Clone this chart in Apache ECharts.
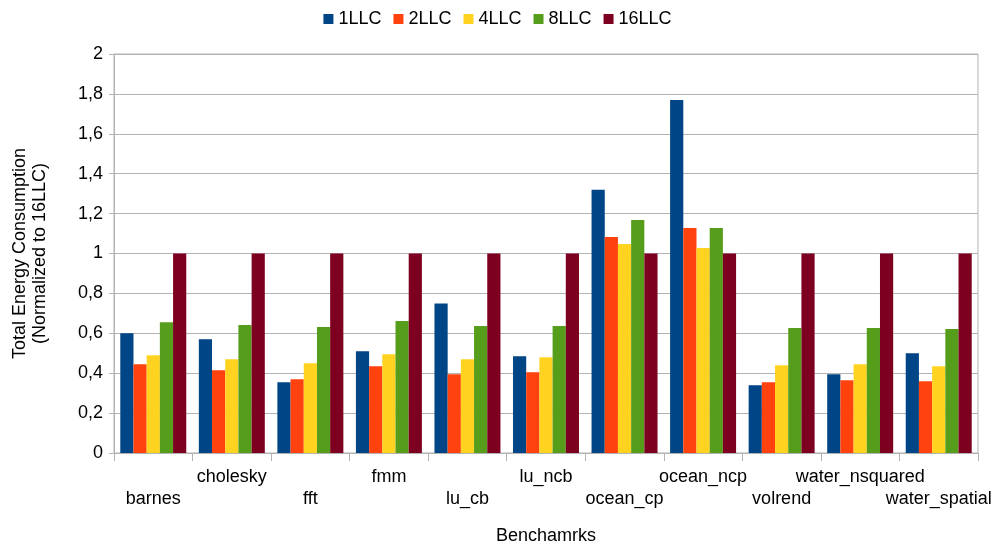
<!DOCTYPE html>
<html>
<head>
<meta charset="utf-8">
<script src="https://cdn.jsdelivr.net/npm/echarts@6/dist/echarts.min.js"></script>
<style>
  html, body { margin: 0; padding: 0; background: #fff; }
  #chart { width: 995px; height: 547px; }
</style>
</head>
<body>
<div id="chart"></div>
<script>
// Benchmarks on the category axis
const benchmarks = ['barnes', 'cholesky', 'fft', 'fmm', 'lu_cb', 'lu_ncb', 'ocean_cp', 'ocean_ncp', 'volrend', 'water_nsquared', 'water_spatial'];

// Energy per configuration, normalized to 16LLC
const llc1  = [0.60, 0.57, 0.355, 0.51, 0.75, 0.485, 1.32, 1.77, 0.34, 0.395, 0.50];
const llc2  = [0.445, 0.415, 0.37, 0.435, 0.395, 0.405, 1.083, 1.128, 0.355, 0.365, 0.36];
const llc4  = [0.49, 0.47, 0.45, 0.495, 0.47, 0.48, 1.048, 1.028, 0.44, 0.445, 0.435];
const llc8  = [0.655, 0.642, 0.632, 0.662, 0.637, 0.637, 1.168, 1.128, 0.627, 0.627, 0.622];
const llc16 = [1, 1, 1, 1, 1, 1, 1, 1, 1, 1, 1];

const seriesNames = ['1LLC', '2LLC', '4LLC', '8LLC', '16LLC'];
const seriesData = [llc1, llc2, llc4, llc8, llc16];
const colors = ['#004586', '#ff420e', '#ffd320', '#579d1c', '#7e0021'];

const font = 'Liberation Sans, Arial, sans-serif';
const gridColor = '#b3b3b3';
const fs = 18;

const chart = echarts.init(document.getElementById('chart'));
chart.setOption({
  animation: false,
  color: colors,
  textStyle: { fontFamily: font },
  legend: {
    top: 5,
    left: 'center',
    itemWidth: 10,
    itemHeight: 10,
    itemGap: 12,
    icon: 'rect',
    textStyle: { fontSize: fs, color: '#000', fontFamily: font },
    data: seriesNames
  },
  grid: {
    left: 114,
    right: 17,
    top: 54,
    bottom: 94,
    outerBoundsMode: 'none',
    containLabel: false,
    show: true,
    borderColor: gridColor,
    borderWidth: 1
  },
  xAxis: {
    type: 'category',
    data: benchmarks,
    name: 'Benchamrks',
    nameLocation: 'middle',
    nameGap: 74,
    nameTextStyle: { fontSize: fs, color: '#000', fontFamily: font },
    axisLine: { lineStyle: { color: gridColor } },
    axisTick: { show: true, length: 8, lineStyle: { color: gridColor } },
    axisLabel: {
      interval: 0,
      margin: 13,
      fontSize: fs,
      lineHeight: 22,
      color: '#000',
      fontFamily: font,
      formatter: (v, i) => (i % 2 === 0 ? '\n' + v : v)
    }
  },
  yAxis: {
    type: 'value',
    min: 0,
    max: 2,
    interval: 0.2,
    name: 'Total Energy Consumption\n(Normalized to 16LLC)',
    nameLocation: 'middle',
    nameGap: 64,
    nameRotate: 90,
    nameTextStyle: { fontSize: fs, color: '#000', fontFamily: font, lineHeight: 20 },
    axisLine: { show: true, lineStyle: { color: gridColor } },
    axisTick: { show: true, length: 5, lineStyle: { color: gridColor } },
    splitLine: { lineStyle: { color: gridColor } },
    axisLabel: {
      fontSize: fs,
      margin: 11,
      color: '#000',
      fontFamily: font,
      formatter: v => String(Math.round(v * 10) / 10).replace('.', ',')
    }
  },
  series: seriesNames.map((name, k) => ({
    name: name,
    type: 'bar',
    data: seriesData[k],
    barGap: '0%',
    barCategoryGap: '16%'
  }))
});
</script>
</body>
</html>
